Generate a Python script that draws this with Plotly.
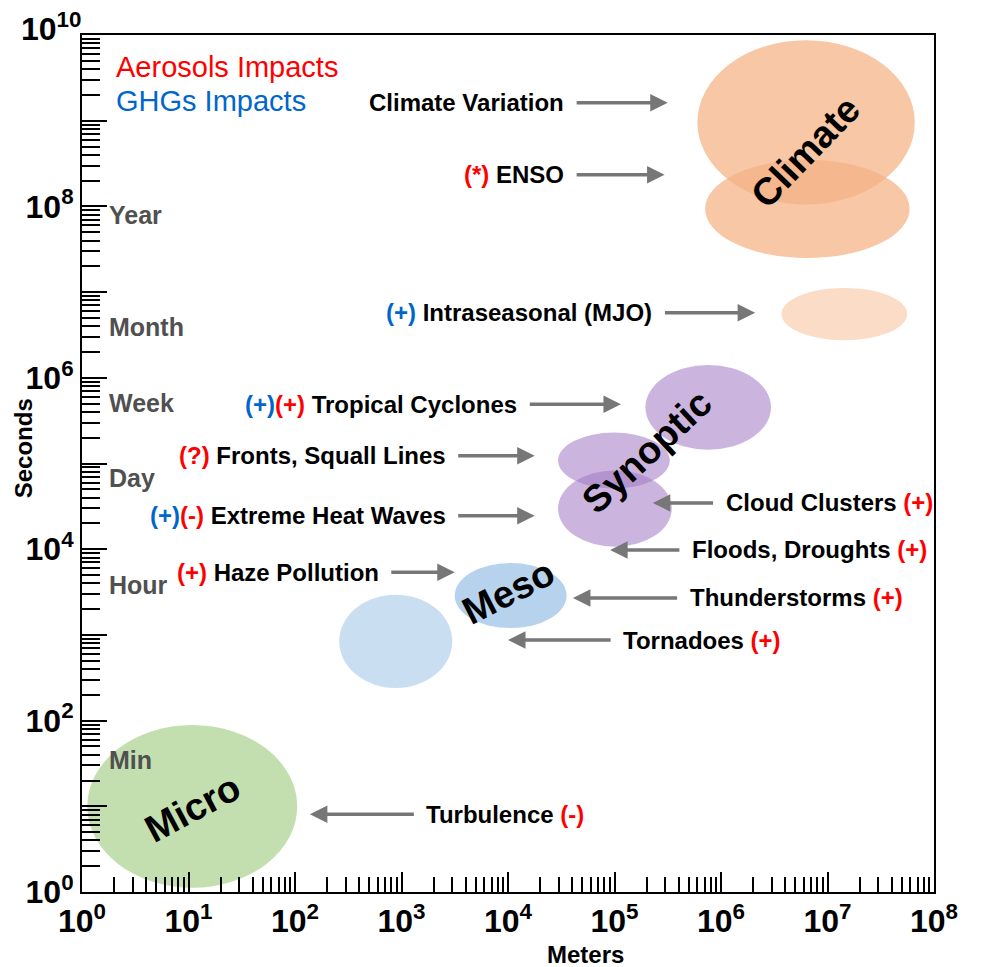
import numpy as np
import plotly.graph_objects as go

# ---------------- data ----------------
x_decades = list(range(0, 9))            # 10^0 .. 10^8 meters
y_decades = list(range(0, 11))           # 10^0 .. 10^10 seconds
x_ticktext = [f"10<sup>{d}</sup>" for d in x_decades]
y_ticktext = [f"10<sup>{d}</sup>" if d % 2 == 0 else "" for d in y_decades]

# scale regions (ellipse extents): meters min/max, seconds min/max
region_names = ["Climate A", "Climate B", "Intraseasonal", "Synoptic A", "Synoptic B",
                "Synoptic C", "Meso", "Meso small", "Micro"]
region_m_min = [6.0e5, 7.1e5, 3.7e6, 1.95e5, 2.95e4, 2.95e4, 3.16e3, 2.6e2, 1.12]
region_m_max = [6.6e7, 5.9e7, 5.6e7, 2.95e6, 3.3e5, 3.45e5, 3.55e4, 3.0e3, 105]
region_s_min = [1.05e8, 2.5e7, 2.75e6, 1.45e5, 5.1e4, 1.07e4, 1.2e3, 2.4e2, 1.12]
region_s_max = [8.7e9, 3.5e8, 1.12e7, 1.41e6, 2.3e5, 8.3e4, 6.9e3, 2.95e3, 89]

# scale labels (rotated) : meters, seconds
scale_labels = ["Climate", "Synoptic", "Meso", "Micro"]
scale_label_m = [6.2e6, 2.0e5, 1.0e4, 11.0]
scale_label_s = [4.3e8, 1.35e5, 3.16e3, 9.5]

# phenomena: label, impact markers, arrow head (meters, seconds), arrow tail meters, side
events = ["Climate Variation", "ENSO", "Intraseasonal (MJO)", "Tropical Cyclones",
          "Fronts, Squall Lines", "Extreme Heat Waves", "Haze Pollution",
          "Cloud Clusters", "Floods, Droughts", "Thunderstorms", "Tornadoes", "Turbulence"]
event_impacts = [[], [("(*)", "r")], [("(+)", "b")], [("(+)", "b"), ("(+)", "r")],
                 [("(?)", "r")], [("(+)", "b"), ("(-)", "r")], [("(+)", "r")],
                 [("(+)", "r")], [("(+)", "r")], [("(+)", "r")], [("(+)", "r")], [("(-)", "r")]]
event_head_m = [3.16e5, 2.95e5, 2.09e6, 1.15e5, 1.78e4, 1.78e4, 3.16e3,
                2.29e5, 9.1e4, 4.07e4, 1.0e4, 138]
event_head_s = [1.62e9, 2.34e8, 5.75e6, 4.9e5, 1.23e5, 2.45e4, 5.4e3,
                3.47e4, 9.8e3, 2.7e3, 870, 8.1]
event_tail_m = [4.27e4, 4.27e4, 2.88e5, 1.55e4, 3.3e3, 3.3e3, 776,
                8.7e5, 4.2e5, 4.0e5, 9.5e4, 1.35e3]
event_side = ["left"] * 7 + ["right"] * 5

# time-scale labels next to the seconds axis
time_names = ["Year", "Month", "Week", "Day", "Hour", "Min"]
time_label_s = [7.9e7, 3.9e6, 5.1e5, 6.8e4, 3.8e3, 35]

legend_names = ["Aerosols Impacts", "GHGs Impacts"]

# ---------------- style ----------------
RED = "#FF0000"
BLUE = "#0066CC"
ARROW = "#777777"
FONT = "Liberation Sans"
region_fill = ["rgba(244,177,131,0.72)", "rgba(244,177,131,0.72)", "rgba(244,177,131,0.45)",
               "rgba(160,120,195,0.55)", "rgba(160,120,195,0.55)", "rgba(160,120,195,0.55)",
               "rgba(157,195,230,0.75)", "rgba(157,195,230,0.55)", "rgba(169,209,142,0.7)"]
scale_angles = [-46, -43, -27, -28]
LABEL_SIZE = 24
TICK_SIZE = 32

fig = go.Figure()
# invisible trace to establish axes
fig.add_trace(go.Scatter(x=[1, 1e8], y=[1, 1e10], mode="markers",
                         marker=dict(opacity=0), hoverinfo="skip", showlegend=False))

for i in range(len(region_names)):
    fig.add_shape(type="circle", xref="x", yref="y",
                  x0=region_m_min[i], x1=region_m_max[i],
                  y0=region_s_min[i], y1=region_s_max[i],
                  fillcolor=region_fill[i], line=dict(width=0), layer="below")

for i, lab in enumerate(scale_labels):
    fig.add_annotation(x=np.log10(scale_label_m[i]), y=np.log10(scale_label_s[i]),
                       text=f"<b>{lab}</b>", showarrow=False, textangle=scale_angles[i],
                       font=dict(family=FONT, size=38, color="black"),
                       xanchor="center", yanchor="middle")

cmap = {"r": RED, "b": BLUE}
for i, ev in enumerate(events):
    hx, hy = np.log10(event_head_m[i]), np.log10(event_head_s[i])
    tx = np.log10(event_tail_m[i])
    fig.add_annotation(x=hx, y=hy, ax=tx, ay=hy, axref="x", ayref="y", text="",
                       showarrow=True, arrowhead=2, arrowsize=1, arrowwidth=3.5,
                       arrowcolor=ARROW, standoff=0, startstandoff=0)
    marks = "".join(f"<span style='color:{cmap[c]}'>{t}</span>" for t, c in event_impacts[i])
    if event_side[i] == "left":
        text = (marks + " " if marks else "") + ev
        fig.add_annotation(x=tx, y=hy, text=f"<b>{text}</b>", showarrow=False,
                           xanchor="right", yanchor="middle", xshift=-9,
                           font=dict(family=FONT, size=LABEL_SIZE, color="black"))
    else:
        text = ev + (" " + marks if marks else "")
        fig.add_annotation(x=tx, y=hy, text=f"<b>{text}</b>", showarrow=False,
                           xanchor="left", yanchor="middle", xshift=9,
                           font=dict(family=FONT, size=LABEL_SIZE, color="black"))

for i, nm in enumerate(time_names):
    fig.add_annotation(xref="paper", x=0, y=np.log10(time_label_s[i]), text=f"<b>{nm}</b>",
                       showarrow=False, xanchor="left", yanchor="middle", xshift=25,
                       font=dict(family=FONT, size=25, color="#505050"))

fig.add_annotation(xref="paper", yref="paper", x=0.038, y=0.963, text=legend_names[0],
                   showarrow=False, xanchor="left", yanchor="middle",
                   font=dict(family=FONT, size=29, color=RED))
fig.add_annotation(xref="paper", yref="paper", x=0.038, y=0.923, text=legend_names[1],
                   showarrow=False, xanchor="left", yanchor="middle",
                   font=dict(family=FONT, size=29, color=BLUE))

# top y tick label drawn just above the frame
fig.add_annotation(xref="paper", yref="paper", x=0, y=1, text=f"<b>{y_ticktext[-1]}</b>",
                   showarrow=False, xanchor="right", yanchor="middle", xshift=2, yshift=8,
                   font=dict(family=FONT, size=TICK_SIZE, color="black"))

# axis titles
fig.add_annotation(xref="paper", yref="paper", x=0.591, y=-0.073, text="<b>Meters</b>",
                   showarrow=False, xanchor="center", yanchor="middle",
                   font=dict(family=FONT, size=24, color="black"))
fig.add_annotation(xref="paper", yref="paper", x=-0.069, y=0.518, text="<b>Seconds</b>",
                   showarrow=False, xanchor="center", yanchor="middle", textangle=-90,
                   font=dict(family=FONT, size=24, color="black"))

x_minor = [k * 10 ** d for d in x_decades[:-1] for k in range(2, 10)]
y_minor = [k * 10 ** d for d in y_decades[:-1] for k in range(2, 10)]

axis_common = dict(type="log", showgrid=False, zeroline=False, showline=True,
                   linecolor="black", linewidth=2, mirror=True, automargin=False,
                   ticks="inside", tickcolor="black", tickwidth=1.5,
                   tickfont=dict(family=FONT, size=TICK_SIZE, color="black"))
fig.update_xaxes(**axis_common, range=[0, 8], tickmode="array",
                 tickvals=[10 ** d for d in x_decades],
                 ticktext=[f"<b>{t}</b>" for t in x_ticktext], ticklen=20,
                 minor=dict(tickmode="array", tickvals=x_minor, ticks="inside",
                            ticklen=15, tickwidth=1.5, tickcolor="black"))
fig.update_yaxes(**axis_common, range=[0, 10], tickmode="array",
                 tickvals=[10 ** d for d in y_decades],
                 ticktext=[f"<b>{t}</b>" if (t and d < 10) else ""
                           for t, d in zip(y_ticktext, y_decades)], ticklen=25,
                 minor=dict(tickmode="array", tickvals=y_minor, ticks="inside",
                            ticklen=18, tickwidth=1.5, tickcolor="black"))

fig.update_layout(width=974, height=959, margin=dict(l=74, r=48, t=27, b=75),
                  plot_bgcolor="white", paper_bgcolor="white", showlegend=False)

fig.write_html("out.html")
